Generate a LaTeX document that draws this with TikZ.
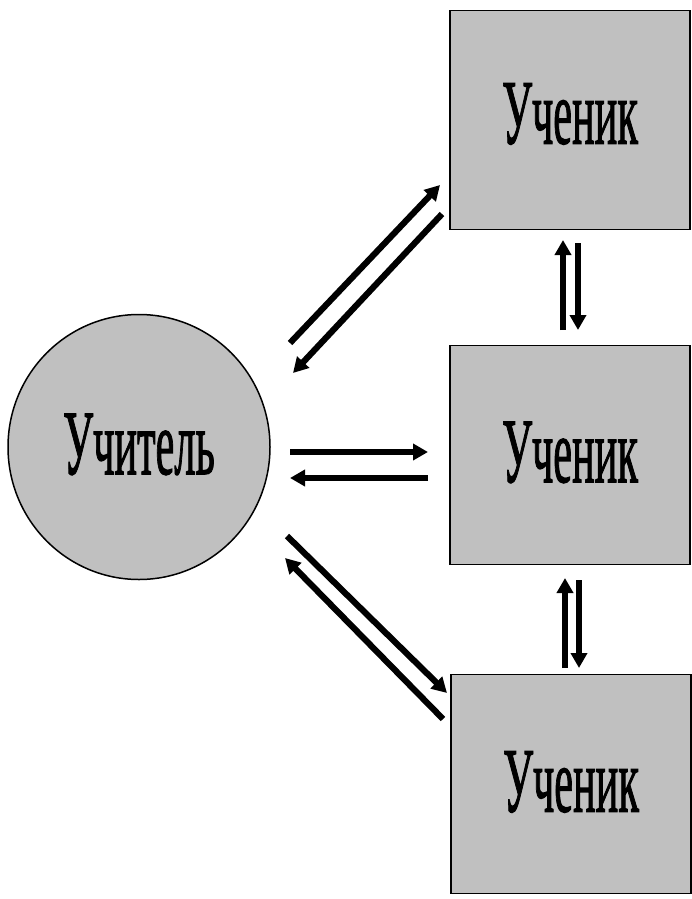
\documentclass[tikz,border=0pt]{standalone}
\usepackage{fontspec}
\setmainfont{Liberation Serif}
\newfontfamily\lblfont[FakeBold=1.6]{Liberation Serif}
\usetikzlibrary{arrows.meta,shapes.geometric}
\definecolor{nodegray}{RGB}{192,192,192}
\begin{document}
\begin{tikzpicture}[x=1pt,y=-1pt,
  pupil/.style={draw=black, line width=1.8pt, fill=nodegray, rectangle,
    minimum width=240pt, minimum height=219pt, inner sep=0pt,
    font=\fontsize{92}{92}\lblfont},
  teacher/.style={draw=black, line width=1.5pt, fill=nodegray, ellipse,
    minimum width=262pt, minimum height=265pt, inner sep=0pt,
    font=\fontsize{92}{92}\lblfont},
  link/.style={line width=6.2pt, -{Triangle[length=15pt,width=16pt]}}
]
\useasboundingbox (0,0) rectangle (692,899);
\node[teacher] (t) at (139,447) {\raisebox{6pt}{\scalebox{0.46}[1]{Учитель}}};
\node[pupil] (p1) at (570,120) {\raisebox{13pt}{\scalebox{0.46}[1]{Ученик}}};
\node[pupil] (p2) at (570,455) {\raisebox{6pt}{\scalebox{0.46}[1]{Ученик}}};
\node[pupil] (p3) at (571,784) {\raisebox{5pt}{\scalebox{0.46}[1]{Ученик}}};
% upper diagonal pair
\coordinate (a1s) at (290,343); \coordinate (a1e) at (440,185);
\coordinate (a2s) at (442,214); \coordinate (a2e) at (293,373);
\draw[link] (a1s) -- (a1e);
\draw[link] (a2s) -- (a2e);
% horizontal pair
\coordinate (b1s) at (290,452); \coordinate (b1e) at (428,452);
\coordinate (b2s) at (428,478); \coordinate (b2e) at (290,478);
\draw[link] (b1s) -- (b1e);
\draw[link] (b2s) -- (b2e);
% lower diagonal pair
\coordinate (c1s) at (287,536); \coordinate (c1e) at (447,693);
\coordinate (c2s) at (443,719); \coordinate (c2e) at (285,558);
\draw[link] (c1s) -- (c1e);
\draw[link] (c2s) -- (c2e);
% vertical pairs
\coordinate (d1s) at (563,330); \coordinate (d1e) at (563,240);
\coordinate (d2s) at (578,243); \coordinate (d2e) at (578,330);
\draw[link] (d1s) -- (d1e);
\draw[link] (d2s) -- (d2e);
\coordinate (e1s) at (565,668); \coordinate (e1e) at (565,578);
\coordinate (e2s) at (579,580); \coordinate (e2e) at (579,668);
\draw[link] (e1s) -- (e1e);
\draw[link] (e2s) -- (e2e);
\end{tikzpicture}
\end{document}
